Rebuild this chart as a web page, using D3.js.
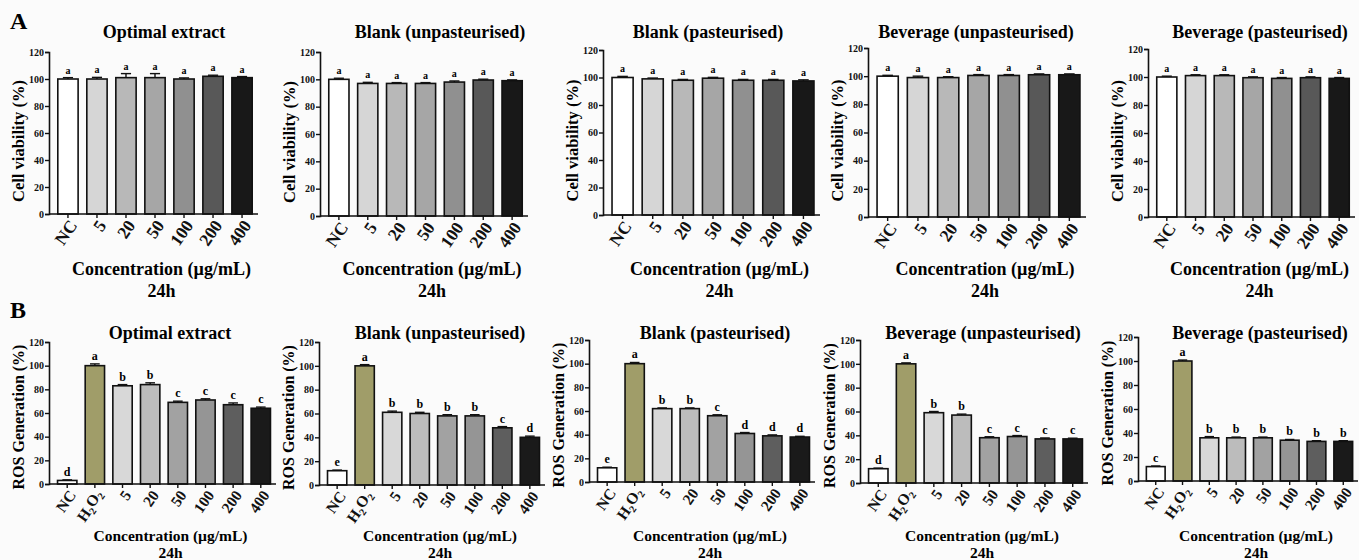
<!DOCTYPE html>
<html>
<head>
<meta charset="utf-8">
<script src="https://cdn.jsdelivr.net/npm/d3@7"></script>
<style>
  body { margin: 0; background: #fbfbfb; }
  svg, svg text { font-family: "Liberation Serif", "Times New Roman", Tinos, "DejaVu Serif", serif !important; font-weight: bold; }
</style>
</head>
<body>
<svg id="chart" width="1359" height="560"></svg>
<script>
// categories
var catsA = ["NC", "5", "20", "50", "100", "200", "400"];
var catsB = ["NC", "H2O2", "5", "20", "50", "100", "200", "400"];
var titles = ["Optimal extract", "Blank (unpasteurised)", "Blank (pasteurised)", "Beverage (unpasteurised)", "Beverage (pasteurised)"];
var yTicks = [0, 20, 40, 60, 80, 100, 120];

// A: cell viability (%)
var viaOptimal  = [100, 100, 101, 101, 100, 102, 101];
var viaBlankUn  = [100, 97, 97, 97, 98, 99.5, 99];
var viaBlankP   = [100, 99, 98, 99.5, 98, 98, 97.5];
var viaBevUn    = [100, 99, 99, 100.5, 100.5, 101, 101];
var viaBevP     = [100, 101, 101, 99.5, 99, 99.5, 99];
var errOptimal  = [1, 1.2, 3, 3, 0.8, 0.8, 0.8];
var errBlankUn  = [0.8, 0.8, 0.6, 0.6, 0.8, 0.6, 0.6];
var errBlankP   = [0.8, 0.6, 0.6, 0.6, 0.6, 0.6, 0.8];
var errBevUn    = [0.6, 1, 0.6, 0.6, 0.6, 0.6, 0.6];
var errBevP     = [0.6, 0.6, 0.6, 0.6, 0.6, 0.6, 0.6];
var letA        = ["a", "a", "a", "a", "a", "a", "a"];

// B: ROS generation (%)
var rosOptimal  = [3, 100, 83, 84, 69, 71, 67, 64];
var rosBlankUn  = [12, 100, 61, 60, 58, 58, 48, 40];
var rosBlankP   = [12, 100, 62, 62, 56, 41, 39, 38];
var rosBevUn    = [12, 100, 59, 57, 38, 39, 37, 37];
var rosBevP     = [12, 100, 36, 36, 36, 34, 33, 33];
var rerOptimal  = [0.5, 1.5, 1, 1.5, 1, 1, 1.5, 1];
var rerBlankUn  = [0.5, 1, 1, 1, 1, 1, 1, 1];
var rerBlankP   = [0.5, 1, 0.6, 0.6, 0.8, 0.8, 0.8, 0.6];
var rerBevUn    = [0.5, 0.8, 1, 0.8, 0.8, 0.8, 0.8, 0.6];
var rerBevP     = [0.5, 0.8, 1, 0.6, 0.6, 0.6, 0.6, 0.6];
var letOptimal  = ["d", "a", "b", "b", "c", "c", "c", "c"];
var letBlankUn  = ["e", "a", "b", "b", "b", "b", "c", "d"];
var letBlankP   = ["e", "a", "b", "b", "c", "d", "d", "d"];
var letBevUn    = ["d", "a", "b", "b", "c", "c", "c", "c"];
var letBevP     = ["c", "a", "b", "b", "b", "b", "b", "b"];

var fillA = ["#ffffff", "#d6d6d6", "#b8b8b8", "#a6a6a6", "#909090", "#585858", "#181818"];
var fillB = ["#ffffff", "#a09d69", "#d8d8d8", "#bcbcbc", "#a2a2a2", "#959595", "#5e5e5e", "#1a1a1a"];

// panel frames (pixels)
var boxA = [
    {x0: 49, x1: 258, top: 52, bot: 214, tx: 164},
    {x0: 320, x1: 528, top: 52, bot: 216, tx: 440},
    {x0: 603, x1: 820, top: 50, bot: 215, tx: 708},
    {x0: 868, x1: 1086, top: 48, bot: 217, tx: 976},
    {x0: 1148, x1: 1355, top: 49, bot: 217, tx: 1260}
];
var boxB = [
    {x0: 49, x1: 276, top: 342, bot: 484, tx: 170},
    {x0: 319, x1: 545, top: 342, bot: 485, tx: 440},
    {x0: 589, x1: 815, top: 340, bot: 482, tx: 715},
    {x0: 860, x1: 1088, top: 340, bot: 483, tx: 983},
    {x0: 1138, x1: 1358, top: 337, bot: 481, tx: 1260}
];

var FONT = '"Liberation Serif", "Times New Roman", serif';
var svg = d3.select('#chart');

function drawPanel(box, cats, vals, errs, lets, fills, opt) {
    var g = svg.append('g').attr('font-family', FONT);
    var x = d3.scaleBand().domain(cats).range([box.x0 + 3, box.x1]).paddingInner(0.3).paddingOuter(0.2);
    var y = d3.scaleLinear().domain([0, 120]).range([box.bot, box.top]);

    var data = cats.map(function(c, i) { return {cat: c, v: vals[i], e: errs[i], l: lets[i], f: fills[i]}; });

    g.selectAll('rect.bar').data(data).enter().append('rect')
        .attr('class', 'bar')
        .attr('x', function(d) { return x(d.cat); })
        .attr('y', function(d) { return y(d.v); })
        .attr('width', x.bandwidth())
        .attr('height', function(d) { return y(0) - y(d.v); })
        .style('fill', function(d) { return d.f; })
        .style('stroke', '#111')
        .style('stroke-width', 1.6);

    // error bars
    var eb = g.selectAll('g.err').data(data).enter().append('g').attr('class', 'err');
    eb.append('line')
        .attr('x1', function(d) { return x(d.cat) + x.bandwidth() / 2; })
        .attr('x2', function(d) { return x(d.cat) + x.bandwidth() / 2; })
        .attr('y1', function(d) { return y(d.v); })
        .attr('y2', function(d) { return y(d.v + d.e); })
        .style('stroke', '#111').style('stroke-width', 1.4);
    eb.append('line')
        .attr('x1', function(d) { return x(d.cat) + x.bandwidth() * 0.25; })
        .attr('x2', function(d) { return x(d.cat) + x.bandwidth() * 0.75; })
        .attr('y1', function(d) { return y(d.v + d.e); })
        .attr('y2', function(d) { return y(d.v + d.e); })
        .style('stroke', '#111').style('stroke-width', 1.4);

    // significance letters
    g.selectAll('text.let').data(data).enter().append('text')
        .attr('class', 'let')
        .attr('x', function(d) { return x(d.cat) + x.bandwidth() / 2; })
        .attr('y', function(d) { return y(d.v + d.e) - 4; })
        .attr('text-anchor', 'middle')
        .style('font-size', opt.letSize + 'px')
        .text(function(d) { return d.l; });

    // y axis
    var ya = g.append('g')
        .attr('transform', 'translate(' + box.x0 + ',0)')
        .call(d3.axisLeft(y).tickValues(yTicks).tickSize(4).tickPadding(1));
    ya.attr('font-family', FONT);
    ya.select('.domain').style('stroke', '#111').style('stroke-width', 1.6);
    ya.selectAll('.tick line').style('stroke', '#111').style('stroke-width', 1.4);
    ya.selectAll('text').style('font-size', opt.yTickSize + 'px').style('fill', '#111');

    // x axis
    var xa = g.append('g')
        .attr('transform', 'translate(0,' + box.bot + ')')
        .call(d3.axisBottom(x).tickSize(4).tickSizeOuter(0).tickFormat(''));
    xa.attr('font-family', FONT);
    xa.select('.domain').attr('d', 'M' + box.x0 + ',0H' + box.x1).style('stroke', '#111').style('stroke-width', 1.6);
    xa.selectAll('.tick line').style('stroke', '#111').style('stroke-width', 1.4);

    // rotated category labels
    xa.selectAll('.tick').append('text')
        .attr('transform', 'translate(5,8) rotate(-55)')
        .attr('text-anchor', 'end')
        .attr('dy', '0.35em')
        .style('font-size', opt.xTickSize + 'px').style('fill', '#111')
        .each(function(d) {
            var t = d3.select(this);
            if (d === 'H2O2') {
                t.append('tspan').text('H');
                t.append('tspan').text('2').attr('dy', '0.3em').style('font-size', '0.65em');
                t.append('tspan').text('O').attr('dy', '-0.3em');
                t.append('tspan').text('2').attr('dy', '0.3em').style('font-size', '0.65em');
            } else {
                t.text(d);
            }
        });

    // y label
    g.append('text')
        .attr('transform', 'translate(' + (box.x0 - opt.yLabOff) + ',' + ((box.top + box.bot) / 2 + opt.yLabShift) + ') rotate(-90)')
        .attr('text-anchor', 'middle')
        .style('font-size', opt.yLabSize + 'px')
        .text(opt.yLabel);

    // title
    g.append('text')
        .attr('x', box.tx).attr('y', opt.titleY)
        .attr('text-anchor', 'middle')
        .style('font-size', '18px')
        .text(opt.title);

    // x label + time
    var cx = (box.x0 + box.x1) / 2 + 8;
    g.append('text').attr('x', cx).attr('y', opt.xLabY).attr('text-anchor', 'middle')
        .style('font-size', opt.xLabSize + 'px').text('Concentration (µg/mL)');
    g.append('text').attr('x', cx).attr('y', opt.hY).attr('text-anchor', 'middle')
        .style('font-size', opt.xLabSize + 'px').text('24h');
}

var viaSets = [viaOptimal, viaBlankUn, viaBlankP, viaBevUn, viaBevP];
var errSets = [errOptimal, errBlankUn, errBlankP, errBevUn, errBevP];
var rosSets = [rosOptimal, rosBlankUn, rosBlankP, rosBevUn, rosBevP];
var rerSets = [rerOptimal, rerBlankUn, rerBlankP, rerBevUn, rerBevP];
var letSets = [letOptimal, letBlankUn, letBlankP, letBevUn, letBevP];

for (var i = 0; i < 5; i++) {
    drawPanel(boxA[i], catsA, viaSets[i], errSets[i], letA, fillA, {
        title: titles[i], titleY: 38, yLabel: 'Cell viability (%)', yLabOff: 25, yLabShift: 8, yLabSize: 16.5,
        yTickSize: 10, xTickSize: 17.5, letSize: 10, xLabY: 275, hY: 297, xLabSize: 18
    });
    drawPanel(boxB[i], catsB, rosSets[i], rerSets[i], letSets[i], fillB, {
        title: titles[i], titleY: 339, yLabel: 'ROS Generation (%)', yLabOff: 25, yLabShift: 4, yLabSize: 16,
        yTickSize: 10, xTickSize: 15.5, letSize: 12, xLabY: 541, hY: 558, xLabSize: 15.5
    });
}

svg.append('text').attr('x', 10).attr('y', 29).attr('font-family', FONT).style('font-size', '24px').text('A');
svg.append('text').attr('x', 10).attr('y', 318).attr('font-family', FONT).style('font-size', '24px').text('B');
</script>
</body>
</html>
